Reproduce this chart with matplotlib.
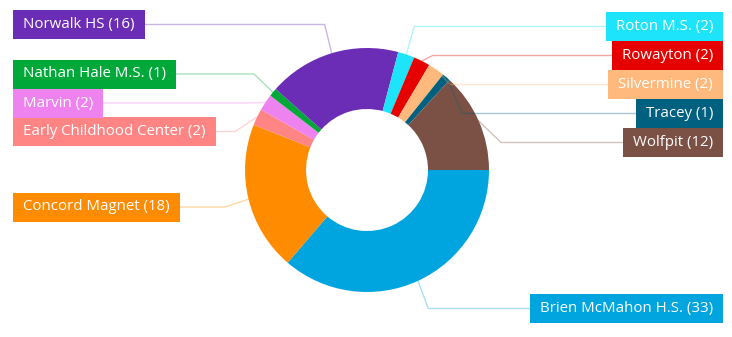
import numpy as np
import matplotlib
matplotlib.use("Agg")
import matplotlib.pyplot as plt
from matplotlib.patches import Rectangle

# data (alphabetical, drawn clockwise from 3 o'clock)
schools = ["Brien McMahon H.S.", "Concord Magnet", "Early Childhood Center", "Marvin",
           "Nathan Hale M.S.", "Norwalk HS", "Roton M.S.", "Rowayton", "Silvermine",
           "Tracey", "Wolfpit"]
counts = [33, 18, 2, 2, 1, 16, 2, 2, 2, 1, 12]
colors = ["#00A4DE", "#FF8C00", "#FF8585", "#EE82EE", "#00A83A", "#6B2DB5",
          "#1DE3FB", "#E60000", "#FFB97C", "#006080", "#7A5144"]

# label layout: side and box centre y (pixels from top)
label_side = ["R", "L", "L", "L", "L", "L", "R", "R", "R", "R", "R"]
label_y = [308.5, 207, 131.5, 103, 74, 24.5, 26.5, 55.5, 84.5, 113.5, 142.5]

W, H = 732, 337
fig = plt.figure(figsize=(W / 100, H / 100), dpi=100)
ax = fig.add_axes([0, 0, 1, 1])

cx, cy, R = 367, H - 170, 122
wedges, _ = ax.pie(counts, colors=colors, startangle=0, counterclock=False,
                   radius=R, center=(cx, cy), frame=True,
                   wedgeprops=dict(width=R / 2, linewidth=0))
ax.set_xlim(0, W)
ax.set_ylim(0, H)
ax.set_aspect("equal")
ax.axis("off")

fig.canvas.draw()
renderer = fig.canvas.get_renderer()
box_h = 29
pad = 10

for w, name, n, c, side, ly in zip(wedges, schools, counts, colors, label_side, label_y):
    y = H - ly
    ang = np.deg2rad((w.theta1 + w.theta2) / 2)
    ax0, ay0 = cx + R * np.cos(ang), cy + R * np.sin(ang)
    ex = cx + 1.2 * R * np.cos(ang)
    if side == "L":
        x_text = 13 + pad
        ha = "left"
    else:
        x_text = 723 - pad
        ha = "right"
    t = ax.text(x_text, y, f"{name} ({n})", color="white", fontsize=10.8,
                family="Open Sans", ha=ha, va="center", zorder=5)
    bb = t.get_window_extent(renderer)
    tw = bb.width
    if side == "L":
        bx0 = 13
        bx1 = 13 + tw + 2 * pad
        edge = bx1
    else:
        bx1 = 723
        bx0 = 723 - tw - 2 * pad
        edge = bx0
    ax.add_patch(Rectangle((bx0, y - box_h / 2), bx1 - bx0, box_h,
                           facecolor=c, edgecolor="none", zorder=4))
    ax.plot([ax0, ex, edge], [ay0, y, y], color=c, alpha=0.35, lw=1, zorder=3)

fig.savefig("out.png", dpi=100, facecolor="white")
